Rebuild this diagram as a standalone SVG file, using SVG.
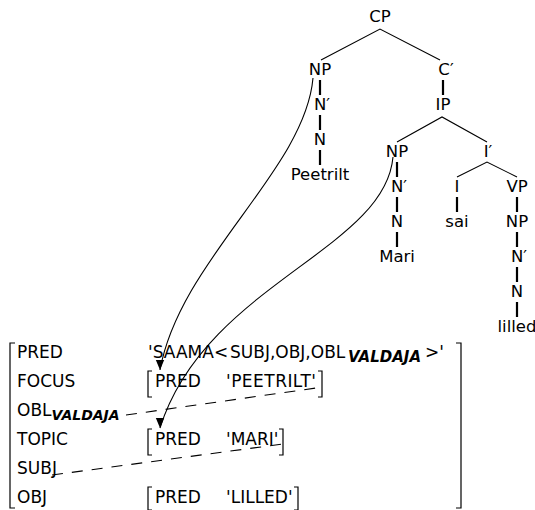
<svg xmlns="http://www.w3.org/2000/svg" width="535" height="510" viewBox="0 0 535 510">
  <style>
    text { font-family: "DejaVu Sans", "Liberation Sans", sans-serif; fill: #000; }
    .t { font-size: 16.5px; text-anchor: middle; }
    .a { font-size: 17px; }
    .sub { font-size: 14px; font-weight: bold; font-style: italic; }
    .sub2 { font-size: 15px; font-weight: bold; font-style: italic; }
    .br { stroke: #000; stroke-width: 1.2; fill: none; }
    .edge { stroke: #000; stroke-width: 1.1; fill: none; }
    .stem { stroke: #000; stroke-width: 2.2; fill: none; }
    .arc { stroke: #000; stroke-width: 1.1; fill: none; }
    .dash { stroke: #000; stroke-width: 1.1; fill: none; stroke-dasharray: 11 9; }
  </style>
  <defs>
    <marker id="head" markerUnits="userSpaceOnUse" markerWidth="10" markerHeight="12" viewBox="0 0 12 10" refX="12" refY="5" orient="90">
      <path d="M0,0 L12,5 L0,10 z" fill="#000"/>
    </marker>
  </defs>

  <!-- tree nodes -->
  <g id="cp"><text class="t" x="380" y="22">CP</text></g>
  <g id="np1"><text class="t" x="320" y="75">NP</text></g>
  <g id="c-bar"><text class="t" x="446" y="75">C′</text></g>
  <g id="n-bar1"><text class="t" x="322" y="110">N′</text></g>
  <g id="ip"><text class="t" x="443" y="110">IP</text></g>
  <g id="n1"><text class="t" x="320" y="145">N</text></g>
  <g id="peetrilt"><text class="t" x="320" y="180">Peetrilt</text></g>
  <g id="np2"><text class="t" x="397" y="157">NP</text></g>
  <g id="i-bar"><text class="t" x="488" y="157">I′</text></g>
  <g id="n-bar2"><text class="t" x="399" y="192">N′</text></g>
  <g id="i"><text class="t" x="457" y="192">I</text></g>
  <g id="vp"><text class="t" x="517" y="192">VP</text></g>
  <g id="n2"><text class="t" x="397" y="227">N</text></g>
  <g id="sai"><text class="t" x="457" y="227">sai</text></g>
  <g id="np3"><text class="t" x="517" y="227">NP</text></g>
  <g id="mari"><text class="t" x="397" y="262">Mari</text></g>
  <g id="n-bar3"><text class="t" x="519" y="262">N′</text></g>
  <g id="n3"><text class="t" x="517" y="297">N</text></g>
  <g id="lilled"><text class="t" x="517" y="332">lilled</text></g>

  <!-- f-structure -->
  <g id="fstructure">
    <path class="br" d="M15,343 H10 V508 H15"/>
    <path class="br" d="M456,343 H461 V508 H456"/>
    <text class="a" x="17" y="358">PRED</text>
    <text class="a" x="17" y="387">FOCUS</text>
    <text class="a" x="17" y="416">OBL<tspan class="sub" dy="4">VALDAJA</tspan></text>
    <text class="a" x="17" y="445">TOPIC</text>
    <text class="a" x="17" y="474">SUBJ</text>
    <text class="a" x="17" y="503">OBJ</text>
    <text class="a" y="358"><tspan x="148">'SAAMA</tspan><tspan x="214">&lt;</tspan><tspan x="230">SUBJ,OBJ,OBL</tspan><tspan class="sub2" x="348" dy="4">VALDAJA</tspan><tspan x="425" dy="-4">&gt;'</tspan></text>
  </g>
  <g id="focus-value">
    <path class="br" d="M152,371 H148 V397 H152"/>
    <text class="a" x="155" y="387">PRED</text>
    <text class="a" x="226" y="387" textLength="90">'PEETRILT'</text>
    <path class="br" d="M318,371 H322 V397 H318"/>
  </g>
  <g id="topic-value">
    <path class="br" d="M152,429 H148 V455 H152"/>
    <text class="a" x="155" y="445">PRED</text>
    <text class="a" x="226" y="445">'MARI'</text>
    <path class="br" d="M279,429 H283 V455 H279"/>
  </g>
  <g id="obj-value">
    <path class="br" d="M152,487 H148 V510 H152"/>
    <text class="a" x="155" y="503">PRED</text>
    <text class="a" x="226" y="503">'LILLED'</text>
    <path class="br" d="M294,487 H298 V510 H294"/>
  </g>

  <!-- connectors -->
  <g id="connectors">
    <path class="edge" d="M321,60 L380,29 L440,60"/>
    <path class="edge" d="M397,142 L442,117 L487,142"/>
    <path class="edge" d="M457,177 L487,162 L517,177"/>
    <path class="stem" d="M320,80 V95 M320,115 V130 M320,150 V165
                         M443,80 V95
                         M397,162 V177 M397,197 V212 M397,232 V247
                         M457,197 V212
                         M517,197 V212 M517,232 V247 M517,267 V282 M517,302 V317"/>
    <path class="arc" d="M313,78 C305,170 180,260 160,370" marker-end="url(#head)"/>
    <path class="arc" d="M393,157 C385,250 205,285 160,428" marker-end="url(#head)"/>
    <path class="dash" d="M126,415 L323,387"/>
    <path class="dash" d="M52,475 L283,444"/>
  </g>
</svg>
